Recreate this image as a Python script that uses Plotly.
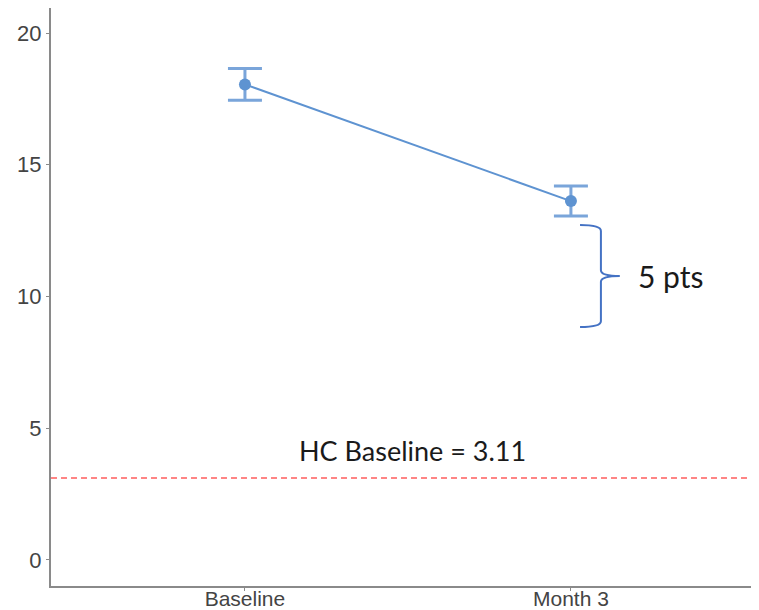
import plotly.graph_objects as go

categories = ["Baseline", "Month 3"]
means = [18.05, 13.62]
errors = [0.60, 0.57]
hc_baseline = 3.11
y_ticks = [0, 5, 10, 15, 20]

x_pos = list(range(len(categories)))

fig = go.Figure()

# HC baseline reference line
fig.add_shape(type="line", xref="paper", yref="y", x0=0, x1=1, y0=hc_baseline, y1=hc_baseline,
              line=dict(color="#FF5C5C", width=1.5, dash="6px,4px"))

fig.add_trace(go.Scatter(
    x=x_pos, y=means, mode="lines+markers",
    line=dict(color="#5E93D1", width=2),
    marker=dict(color="#5E93D1", size=12),
    error_y=dict(type="data", array=errors, visible=True, color="#7AA5DA", thickness=3, width=17),
    showlegend=False, hoverinfo="skip"))

# brace spanning the gap
bx0, bx1, btip = 1.028, 1.092, 1.150
ytop, ymid, ybot = 12.71, 10.78, 8.84
r = 0.22
path = (f"M {bx0},{ytop} Q {bx1},{ytop} {bx1},{ytop - r} "
        f"L {bx1},{ymid + r} Q {bx1},{ymid} {btip},{ymid} "
        f"Q {bx1},{ymid} {bx1},{ymid - r} "
        f"L {bx1},{ybot + r} Q {bx1},{ybot} {bx0},{ybot}")
fig.add_shape(type="path", path=path, xref="x", yref="y",
              line=dict(color="#4472C4", width=2))

fig.add_annotation(x=1.200, y=ymid, xref="x", yref="y", text="5 pts", showarrow=False,
                   xanchor="left", yanchor="middle",
                   font=dict(family="Lato, Open Sans, sans-serif", size=30, color="#1a1a1a"))
fig.add_annotation(x=0.515, y=4.17, xref="x", yref="y", text=f"HC Baseline = {hc_baseline}",
                   showarrow=False, xanchor="center", yanchor="middle",
                   font=dict(family="Lato, Open Sans, sans-serif", size=27, color="#1a1a1a"))

fig.update_layout(
    width=751, height=602,
    margin=dict(l=43, r=0, t=0, b=24, autoexpand=False),
    plot_bgcolor="white", paper_bgcolor="white",
    xaxis=dict(range=[-0.595, 1.577], tickmode="array", tickvals=x_pos, ticktext=categories,
               showgrid=False, zeroline=False, showline=True, linecolor="#8a8a8a", linewidth=2,
               ticks="outside", ticklen=3, tickcolor="#8a8a8a", automargin=False,
               ticklabelstandoff=-10,
               tickfont=dict(family="Liberation Sans, Arial, sans-serif", size=21, color="#444444")),
    yaxis=dict(range=[-0.99, 20.95], tickmode="array", tickvals=y_ticks,
               showgrid=False, zeroline=False, showline=True, linecolor="#8a8a8a", linewidth=2,
               ticks="outside", ticklen=3, tickcolor="#8a8a8a", automargin=False,
               tickfont=dict(family="Liberation Sans, Arial, sans-serif", size=22, color="#444444")),
)

fig.write_html("out.html")
